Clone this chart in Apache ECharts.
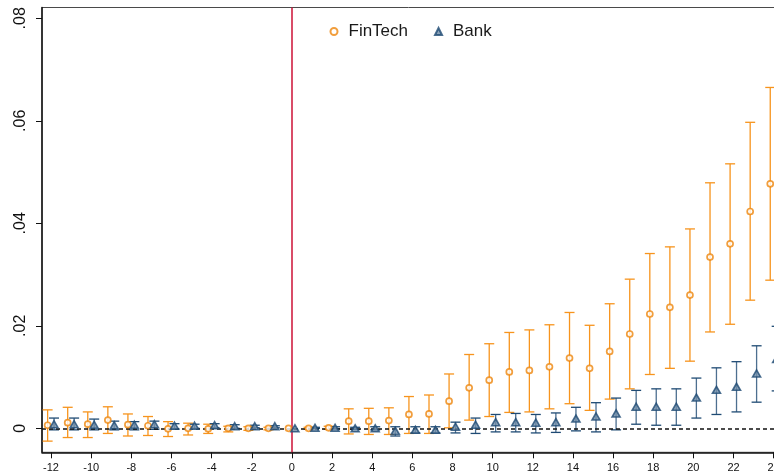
<!DOCTYPE html>
<html>
<head>
<meta charset="utf-8">
<title>Event study: FinTech vs Bank</title>
<script src="https://cdn.jsdelivr.net/npm/echarts@6/dist/echarts.min.js"></script>
<style>
  html, body { margin: 0; padding: 0; background: #fff; }
  #chart { width: 774px; height: 476px; }
</style>
</head>
<body>
<div id="chart"></div>
<script>
// Event time relative to the treatment period (0)
const periods = [-12,-11,-10,-9,-8,-7,-6,-5,-4,-3,-2,-1,0,1,2,3,4,5,6,7,8,9,10,11,12,13,14,15,16,17,18,19,20,21,22,23,24];

// FinTech coefficients and 95% confidence bounds
const fintechCoef = [0.0006,0.0011,0.0008,0.0016,0.0007,0.0005,-0.0001,0.0000,-0.0001,0.0000,0.0000,0.0000,0.0000,0.0000,0.0001,0.0014,0.0014,0.0015,0.0027,0.0028,0.0053,0.0079,0.0094,0.0110,0.0113,0.0120,0.0137,0.0117,0.0150,0.0184,0.0223,0.0236,0.0260,0.0334,0.0360,0.0423,0.0477];
const fintechLo   = [-0.0025,-0.0018,-0.0018,-0.0010,-0.0015,-0.0014,-0.0016,-0.0013,-0.0010,-0.0007,-0.0004,-0.0003,null,-0.0002,-0.0002,-0.0011,-0.0012,-0.0012,-0.0010,-0.0010,0.0001,0.0016,0.0023,0.0031,0.0032,0.0038,0.0048,0.0035,0.0057,0.0077,0.0105,0.0117,0.0131,0.0188,0.0203,0.0250,0.0289];
const fintechHi   = [0.0036,0.0041,0.0032,0.0042,0.0028,0.0023,0.0013,0.0010,0.0008,0.0004,0.0003,0.0002,null,0.0002,0.0004,0.0038,0.0039,0.0040,0.0062,0.0065,0.0106,0.0144,0.0165,0.0187,0.0192,0.0202,0.0226,0.0201,0.0243,0.0291,0.0341,0.0354,0.0389,0.0479,0.0516,0.0597,0.0665];

// Bank coefficients and 95% confidence bounds
const bankCoef = [0.0008,0.0008,0.0007,0.0006,0.0007,0.0008,0.0005,0.0005,0.0006,0.0004,0.0004,0.0004,0.0000,0.0001,0.0001,0.0000,0.0000,-0.0005,-0.0003,-0.0003,0.0003,0.0007,0.0012,0.0012,0.0011,0.0012,0.0019,0.0023,0.0029,0.0042,0.0042,0.0042,0.0060,0.0075,0.0081,0.0107,0.0135];
const bankLo   = [-0.0003,-0.0003,-0.0003,-0.0003,-0.0003,-0.0002,-0.0001,0.0000,0.0001,0.0000,0.0001,0.0001,null,0.0000,-0.0001,-0.0002,-0.0003,-0.0015,-0.0009,-0.0009,-0.0009,-0.0010,-0.0007,-0.0007,-0.0009,-0.0008,-0.0005,-0.0007,-0.0003,0.0008,0.0006,0.0006,0.0020,0.0027,0.0032,0.0051,0.0073];
const bankHi   = [0.0020,0.0020,0.0018,0.0014,0.0013,0.0014,0.0009,0.0008,0.0009,0.0007,0.0006,0.0005,null,0.0002,0.0003,0.0002,0.0003,0.0003,0.0003,0.0003,0.0012,0.0020,0.0027,0.0029,0.0027,0.0030,0.0041,0.0050,0.0059,0.0074,0.0077,0.0077,0.0098,0.0118,0.0130,0.0161,0.0199];

// Axis tick values
const xTicks = [-12,-10,-8,-6,-4,-2,0,2,4,6,8,10,12,14,16,18,20,22,24];
const yTicks = [0, 0.02, 0.04, 0.06, 0.08];

const ORANGE = '#EE860C';
const ORANGE_BAR = '#F7941D';
const NAVY = '#1E4A73';
const NAVY_BAR = '#4D6F90';
const DODGE_F = -0.17;   // horizontal dodge so the two groups sit side by side
const DODGE_B = 0.15;

function pointsOf(coef, shift) {
  return periods.map((p, i) => [p + shift, coef[i]]);
}
function barsOf(lo, hi, shift) {
  const out = [];
  periods.forEach((p, i) => {
    if (lo[i] !== null && hi[i] !== null) out.push([p + shift, lo[i], hi[i]]);
  });
  return out;
}
function errorBar(color, capColor) {
  return function (params, api) {
    const x = api.value(0);
    const top = api.coord([x, api.value(2)]);
    const bot = api.coord([x, api.value(1)]);
    const hw = 5;
    const line = { stroke: color, lineWidth: 1.3 };
    const cap = { stroke: capColor, lineWidth: 1.3 };
    return {
      type: 'group',
      children: [
        { type: 'line', shape: { x1: top[0], y1: top[1], x2: bot[0], y2: bot[1] }, style: line },
        { type: 'line', shape: { x1: top[0] - hw, y1: top[1], x2: top[0] + hw, y2: top[1] }, style: cap },
        { type: 'line', shape: { x1: bot[0] - hw, y1: bot[1], x2: bot[0] + hw, y2: bot[1] }, style: cap }
      ]
    };
  };
}

const fmtY = v => (v === 0 ? '0' : String(v).replace(/^0/, ''));

const chart = echarts.init(document.getElementById('chart'), null, { renderer: 'canvas' });
chart.setOption({
  animation: false,
  backgroundColor: '#ffffff',
  textStyle: { fontFamily: 'Liberation Sans, Arial, sans-serif' },
  grid: {
    left: 42, top: 7.5, width: 741.7, height: 444.8,
    outerBoundsMode: 'none', containLabel: false,
    show: true, borderColor: '#4a4a4a', borderWidth: 1, backgroundColor: 'transparent'
  },
  legend: {
    left: 329.5, top: 23, padding: 0,
    itemWidth: 7, itemHeight: 7, itemGap: 26,
    textStyle: { fontSize: 17, color: '#1a1a1a', padding: [0, 0, 0, 6] },
    data: ['FinTech', 'Bank']
  },
  xAxis: {
    type: 'value', min: -12.45, max: 24.5,
    splitLine: { show: false },
    axisLine: { onZero: false, lineStyle: { color: '#111', width: 1.5 } },
    axisTick: { length: 6, lineStyle: { color: '#111', width: 1 }, customValues: xTicks },
    axisLabel: { customValues: xTicks, fontSize: 11, color: '#111', margin: 10 }
  },
  yAxis: {
    type: 'value', min: -0.00468, max: 0.0821,
    splitLine: { show: false },
    axisLine: { onZero: false, lineStyle: { color: '#111', width: 1.5 } },
    axisTick: { length: 6, lineStyle: { color: '#111', width: 1 }, customValues: yTicks },
    axisLabel: { customValues: yTicks, formatter: fmtY, rotate: 90, fontSize: 16, color: '#111', margin: 13 }
  },
  series: [
    {
      name: 'FinTechCI', type: 'custom', renderItem: errorBar(ORANGE_BAR, ORANGE_BAR),
      data: barsOf(fintechLo, fintechHi, DODGE_F), z: 3, silent: true
    },
    {
      name: 'BankCI', type: 'custom', renderItem: errorBar(NAVY_BAR, NAVY),
      data: barsOf(bankLo, bankHi, DODGE_B), z: 3, silent: true
    },
    {
      name: 'FinTech', type: 'scatter', symbol: 'circle', symbolSize: 6,
      itemStyle: { color: '#ffffff', borderColor: ORANGE, borderWidth: 1.7 },
      data: pointsOf(fintechCoef, DODGE_F), z: 5,
      markLine: {
        silent: true, symbol: 'none', label: { show: false },
        data: [
          { xAxis: 0, lineStyle: { color: '#CC1036', width: 1.5, type: 'solid' } },
          { yAxis: 0, lineStyle: { color: '#111', width: 1.5, type: [4, 3] } }
        ]
      }
    },
    {
      name: 'Bank', type: 'scatter', symbol: 'triangle', symbolSize: [8, 7],
      itemStyle: { color: '#6F8CA8', borderColor: NAVY, borderWidth: 1.6 },
      data: pointsOf(bankCoef, DODGE_B), z: 5
    }
  ]
});
</script>
</body>
</html>
